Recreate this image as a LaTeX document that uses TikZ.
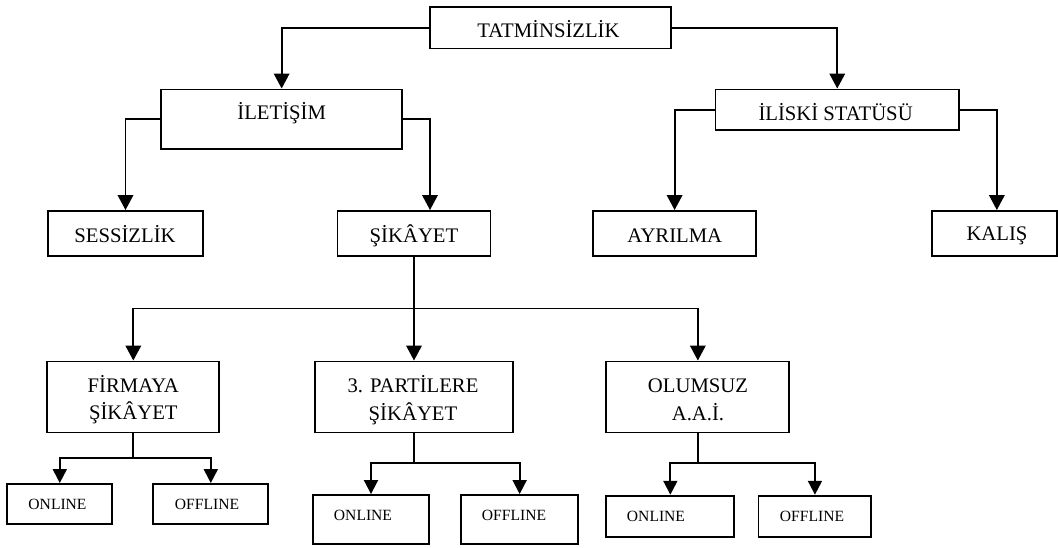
\documentclass[tikz,border=0pt]{standalone}
\usepackage{fontspec}
\setmainfont{Liberation Serif}
\usetikzlibrary{arrows.meta}
\tikzset{
  box/.style={draw=black, line width=1.9pt, inner sep=0pt, fill=none},
  lbl/.style={anchor=base, inner sep=0pt, font=\fontsize{20.7}{24}\selectfont},
  slbl/.style={anchor=base, inner sep=0pt, font=\fontsize{15.6}{18}\selectfont},
  arr/.style={line width=1.9pt, -{Triangle[length=15pt,width=15.5pt]}},
  sarr/.style={line width=1.9pt, -{Triangle[length=14pt,width=14pt]}},
  ln/.style={line width=1.9pt},
}
\newcommand{\bx}[7]{% name, x1, x2, y1, y2 (top-down), style, text
  \node[box, minimum width={(#3-#2)*1pt}, minimum height={(#5-#4)*1pt}, #6] (#1) at ({(#2+#3)/2},{(#4+#5)/2}) {#7};}
\begin{document}
\begin{tikzpicture}[x=1pt, y=-1pt]
\useasboundingbox (0,0) rectangle (1058,548);

% top level and its two branches
\bx{tat}{430}{670.7}{7.4}{48.5}{}{}
\bx{ilet}{161}{402.3}{89.5}{149}{}{}
\bx{ilis}{715.5}{959}{89.5}{130}{}{}
\node[lbl] (ttat) at (548.5,37.3) {TATMİNSİZLİK};
\node[lbl] (tilet) at (281.7,120) {İLETİŞİM};
\node[lbl] (tilis) at (835.6,120.7) {İLİSKİ STATÜSÜ};

% second level
\bx{sess}{48}{203}{211}{256}{}{}
\bx{sik}{337.5}{490.5}{211}{256}{}{}
\bx{ayr}{593.4}{755.8}{211}{256}{}{}
\bx{kal}{932}{1056.7}{211}{256}{}{}
\node[lbl] (tsess) at (125,242.5) {SESSİZLİK};
\node[lbl] (tsik) at (414,242.5) {ŞİKÂYET};
\node[lbl] (tayr) at (674.8,242.5) {AYRILMA};
\node[lbl] (tkal) at (997,240.5) {KALIŞ};

% complaint channels
\bx{firm}{47.3}{219.3}{361.5}{432.5}{}{}
\bx{part}{315}{513}{361.5}{432.5}{}{}
\bx{olum}{606.3}{789.4}{361.5}{432.5}{}{}
\node[lbl] (tfirmA) at (133.3,392) {FİRMAYA};
\node[lbl] (tfirmB) at (133.3,419.5) {ŞİKÂYET};
\node[lbl] (tpartA) at (413,392.5) {3. PARTİLERE};
\node[lbl] (tpartB) at (413,420.5) {ŞİKÂYET};
\node[lbl] (tolumA) at (698,392.5) {OLUMSUZ};
\node[lbl] (tolumB) at (698,420.5) {A.A.İ.};

% online / offline leaves
\bx{fon}{7.3}{112.3}{484}{524.3}{}{}
\bx{foff}{153.3}{268.3}{484}{524.3}{}{}
\bx{pon}{312.7}{429.3}{495}{544.3}{}{}
\bx{poff}{461}{578.3}{495}{544.3}{}{}
\bx{oon}{606.3}{734.4}{495.7}{536.7}{}{}
\bx{ooff}{758.5}{871.4}{495.7}{536.7}{}{}
\node[slbl] (tfon) at (57.5,509) {ONLINE};
\node[slbl] (tfoff) at (207,509) {OFFLINE};
\node[slbl] (tpon) at (363,520.7) {ONLINE};
\node[slbl] (tpoff) at (514,520.7) {OFFLINE};
\node[slbl] (toon) at (656,521.5) {ONLINE};
\node[slbl] (tooff) at (812,521.5) {OFFLINE};

% connectors
\draw[arr] (tat.west) -| (ilet.north);
\draw[arr] (tat.east) -| (ilis.north);
\draw[arr] (ilet.west) -| (sess.north);
\draw[arr] (ilet.east) -| ([xshift=16pt]sik.north);
\draw[arr] (ilis.west) -| (ayr.north);
\draw[arr] (ilis.east) -| ([xshift=2.5pt]kal.north);

\coordinate (j1) at (sik.south |- 0,308.5);
\draw[ln] (sik.south) -- (j1);
\draw[arr] (j1) -| (firm.north);
\draw[arr] (j1) -- (part.north);
\draw[arr] (j1) -| (olum.north);

\coordinate (j2) at (firm.south |- 0,458.3);
\draw[ln] (firm.south) -- (j2);
\draw[sarr] (j2) -| (fon.north);
\draw[sarr] (j2) -| (foff.north);

\coordinate (j3) at (part.south |- 0,463.3);
\draw[ln] (part.south) -- (j3);
\draw[sarr] (j3) -| (pon.north);
\draw[sarr] (j3) -| (poff.north);

\coordinate (j4) at (olum.south |- 0,463.3);
\draw[ln] (olum.south) -- (j4);
\draw[sarr] (j4) -| (oon.north);
\draw[sarr] (j4) -| (ooff.north);
\end{tikzpicture}
\end{document}
